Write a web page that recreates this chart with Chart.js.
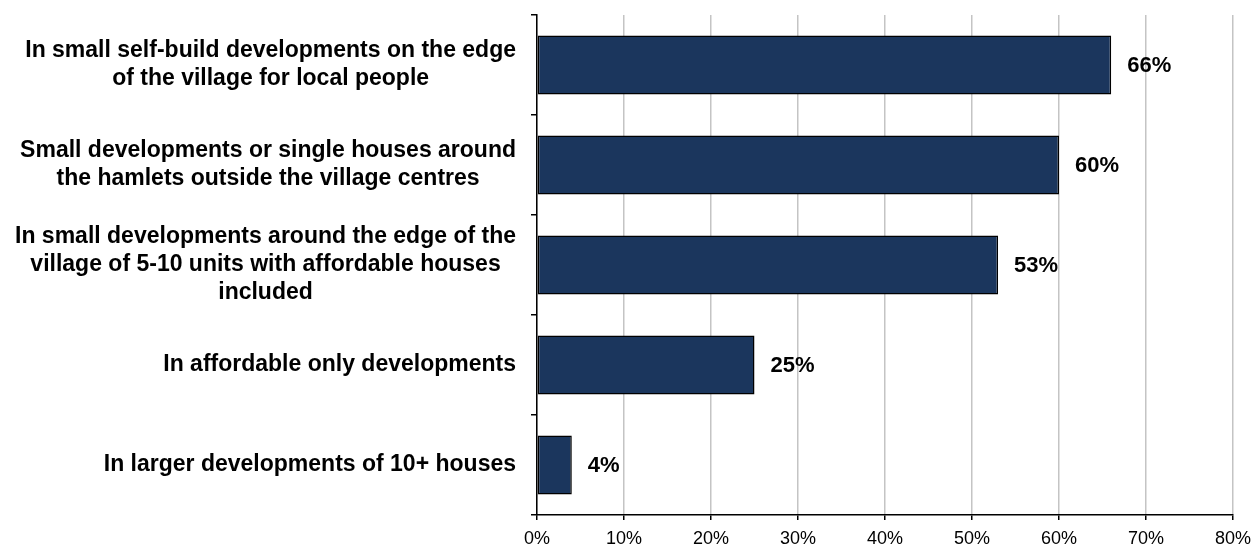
<!DOCTYPE html>
<html>
<head>
<meta charset="utf-8">
<script src="https://cdn.jsdelivr.net/npm/chart.js@4"></script>
<style>
  html, body { margin: 0; padding: 0; background: #fff; }
  #wrap { width: 1260px; height: 548px; position: relative; }
</style>
</head>
<body>
<div id="wrap"><canvas id="chart"></canvas></div>
<script>
const categories = [
  ["In small self-build developments on the edge", "of the village for local people"],
  ["Small developments or single houses around", "the hamlets outside the village centres"],
  ["In small developments around the edge of the", "village of 5-10 units with affordable houses", "included"],
  ["In affordable only developments"],
  ["In larger developments of 10+ houses"],
];
const shares = [66, 60, 53, 25, 4];
const xTicks = [0, 10, 20, 30, 40, 50, 60, 70, 80];

const FONT = "'Liberation Sans', Arial, Helvetica, sans-serif";

// multi-line category names: each block right-aligned, lines centred inside it
const categoryLabels = {
  id: "categoryLabels",
  afterDraw(chart) {
    const { ctx } = chart;
    const y = chart.scales.y;
    const right = y.right - 21;
    const lh = 28;
    ctx.save();
    ctx.font = `bold 23px ${FONT}`;
    ctx.fillStyle = "#000";
    ctx.textAlign = "center";
    ctx.textBaseline = "middle";
    categories.forEach((lines, i) => {
      const w = Math.max(...lines.map((l) => ctx.measureText(l).width));
      const cx = right - w / 2;
      const cy = y.getPixelForTick(i);
      lines.forEach((l, j) => {
        ctx.fillText(l, cx, cy + (j - (lines.length - 1) / 2) * lh);
      });
    });
    ctx.restore();
  },
};

// percentage written just past the end of each bar
const valueLabels = {
  id: "valueLabels",
  afterDatasetsDraw(chart) {
    const { ctx } = chart;
    const meta = chart.getDatasetMeta(0);
    ctx.save();
    ctx.font = `bold 22px ${FONT}`;
    ctx.fillStyle = "#000";
    ctx.textAlign = "left";
    ctx.textBaseline = "middle";
    meta.data.forEach((bar, i) => {
      ctx.fillText(shares[i] + "%", bar.x + 16, bar.y + 1);
    });
    ctx.restore();
  },
};

new Chart(document.getElementById("chart").getContext("2d"), {
  type: "bar",
  data: {
    labels: categories.map((c) => c.join(" ")),
    datasets: [
      {
        data: shares,
        backgroundColor: "#1b365d",
        borderColor: "#000",
        borderWidth: 1.5,
        borderSkipped: false,
        barPercentage: 0.59,
        categoryPercentage: 1,
      },
    ],
  },
  options: {
    indexAxis: "y",
    animation: false,
    responsive: true,
    maintainAspectRatio: false,
    layout: { padding: { top: 15, right: 27, left: 0, bottom: 0 } },
    plugins: {
      legend: { display: false },
      tooltip: { enabled: false },
    },
    scales: {
      x: {
        min: 0,
        max: 80,
        afterBuildTicks: (s) => {
          s.ticks = xTicks.map((value) => ({ value }));
        },
        afterFit: (s) => {
          s.height = 33;
        },
        border: { color: "#000", width: 1.5 },
        grid: {
          color: "#c4c4c4",
          lineWidth: 1.5,
          tickColor: "#000",
          tickLength: 5,
        },
        ticks: {
          padding: 8,
          color: "#000",
          font: { family: FONT, size: 18 },
          callback: (v) => v + "%",
        },
      },
      y: {
        offset: true,
        afterFit: (s) => {
          s.width = 537;
        },
        border: { color: "#000", width: 1.5 },
        grid: {
          offset: true,
          drawOnChartArea: false,
          tickColor: "#000",
          tickLength: 6,
          lineWidth: 1.5,
        },
        ticks: { display: false },
      },
    },
  },
  plugins: [categoryLabels, valueLabels],
});
</script>
</body>
</html>
